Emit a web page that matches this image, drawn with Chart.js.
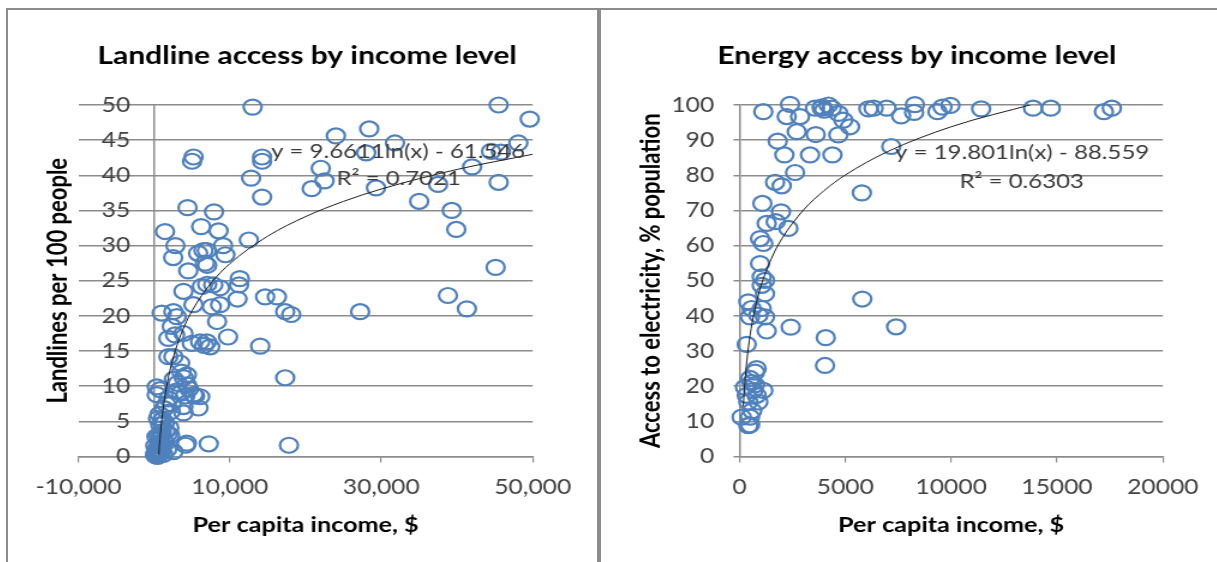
<!DOCTYPE html>
<html>
<head>
<meta charset="utf-8">
<script src="https://cdn.jsdelivr.net/npm/chart.js@4.4.1/dist/chart.umd.min.js"></script>
<style>
  html, body { margin: 0; padding: 0; background: #fff; overflow: hidden; }
  body { width: 1217px; height: 562px; position: relative; }
  .rule { position: absolute; background: #8c8c8c; }
  .panel { position: absolute; top: 10px; height: 552px; transform: scaleX(1.2); transform-origin: 0 0; }
</style>
</head>
<body>
<div class="rule" style="left:6px;top:8px;width:1211px;height:2px"></div>
<div class="rule" style="left:6px;top:8px;width:2px;height:554px"></div>
<div class="rule" style="left:597px;top:8px;width:4px;height:554px"></div>
<div class="panel" style="left:8px;width:491px"><canvas id="landlineChart"></canvas></div>
<div class="panel" style="left:601px;width:513px"><canvas id="energyChart"></canvas></div>
<script>
// landline chart: per capita income ($) vs landlines per 100 people
const landIncome = [
  13000, 45500, 49600, 28400, 24000, 31800, 48100, 44500, 45800, 28000,
  14250, 14250, 5200, 5000, 42000, 22000, 22500, 20800, 29300, 12800,
  45500, 37500, 14250, 35000, 39300, 39900, 45100, 38800, 41300, 27200,
  17300, 18100, 14650, 16200, 14000, 17300, 17800, 7200, 4150, 12500,
  11300, 11200, 11000, 9750,
  4400, 7900, 1430, 6200, 8500, 2800, 2500, 4500, 6500, 6950,
  9100, 9400, 5800, 6700, 7000, 3860, 6300, 7800, 8700, 7000,
  990, 2530, 2980, 5180, 7600, 8700, 8300, 2320, 2750, 1870,
  3860, 4970, 6070, 6950, 7390, 6600, 1870, 2530, 3420, 3600,
  770, 330, 2600, 3100, 3900, 4300, 2900, 3500, 4100, 5180,
  6070, 5840, 3860, 3860, 2300, 4300, 4600, 2530, 5390, 4300,
  100, 200, 300, 400, 500, 600, 700, 800, 900, 1000,
  1200, 1500, 1800, 2000, 300, 150, 600, 800, 1100, 1400,
  500, 700, 1300, 1600, 1900, 2200, 2100, 1700, 250, 450,
  350, 900, 1000, 1200, 1430, 330
];
const landlines = [
  49.7, 50.0, 48.0, 46.6, 45.6, 44.6, 44.6, 43.4, 43.3, 43.2,
  42.6, 42.0, 42.6, 42.0, 41.2, 41.0, 39.2, 38.1, 38.2, 39.6,
  39.0, 38.7, 36.9, 36.3, 35.0, 32.3, 26.9, 22.9, 21.0, 20.6,
  20.6, 20.2, 22.7, 22.7, 15.7, 11.2, 1.6, 1.8, 1.6, 30.8,
  25.3, 24.4, 22.4, 17.0,
  35.4, 34.8, 32.0, 32.7, 32.1, 30.0, 28.3, 26.4, 29.3, 29.3,
  30.0, 28.7, 28.9, 27.5, 27.2, 23.5, 24.2, 24.4, 24.0, 24.5,
  20.4, 20.6, 19.9, 21.6, 21.3, 21.6, 19.2, 18.5, 17.3, 16.8,
  17.5, 16.1, 16.3, 16.3, 15.6, 15.8, 14.2, 14.2, 13.3, 12.0,
  9.5, 8.8, 11.0, 10.4, 11.2, 10.2, 9.3, 9.0, 8.6, 8.8,
  8.5, 6.9, 7.1, 6.2, 7.5, 11.6, 9.6, 0.7, 8.6, 1.9,
  0.2, 0.5, 0.3, 0.8, 1.2, 0.4, 1.8, 2.5, 3.0, 3.5,
  2.2, 3.6, 3.2, 4.1, 2.8, 1.5, 3.0, 4.5, 5.2, 4.8,
  5.4, 6.0, 6.8, 7.4, 8.2, 6.4, 3.0, 1.0, 0.1, 0.0,
  1.0, 0.6, 1.5, 0.3, 1.9, 9.9
];
// fitted curve y = 9.6611ln(x) - 61.546, read at a few incomes
const landTrendX = [600, 700, 800, 1000, 1500, 2000, 3000, 4000, 5000, 7500, 10000, 15000, 20000, 25000, 30000, 40000, 50000];
const landTrendY = [0.25, 1.75, 3.04, 5.19, 9.11, 11.89, 15.80, 18.58, 20.74, 24.66, 27.44, 31.35, 34.13, 36.29, 38.05, 40.83, 42.99];

// energy chart: per capita income ($) vs access to electricity (% population)
const energyIncome = [
  1125, 2387, 2230, 2860, 3570, 3885, 4200, 4360, 4670, 4905,
  5220, 2705, 3600, 4670, 1805, 2120, 3333, 4390, 2625, 1680,
  1995, 5780, 1080, 1960, 1710, 1285, 2307, 970, 1125, 970,
  1050, 1205, 1050, 1205, 416, 575, 1050, 890, 1205, 496,
  1285, 2420, 340, 4074, 4040, 5800, 7400, 810, 730, 496,
  260, 1125, 810, 416, 890, 104, 416, 496, 575, 650,
  340, 730, 500, 600, 6334, 6949, 7634, 8287, 8250, 9350,
  9590, 9965, 11416, 13870, 14706, 17215, 17590, 7170, 6090, 3900,
  4000
];
const electricity = [
  98.1, 100.2, 96.7, 96.7, 99.1, 99.1, 100.0, 99.1, 97.6, 95.7,
  93.8, 92.4, 91.6, 91.5, 89.7, 85.8, 85.8, 85.8, 80.8, 78.0,
  77.0, 75.0, 72.0, 69.6, 66.8, 66.3, 64.9, 62.0, 60.6, 54.9,
  51.1, 50.1, 48.7, 46.3, 44.0, 42.1, 42.1, 40.2, 39.7, 39.7,
  35.7, 36.8, 31.9, 33.8, 25.9, 44.8, 36.9, 25.0, 24.0, 22.2,
  19.7, 18.8, 17.4, 15.5, 15.5, 11.2, 8.8, 11.2, 21.0, 18.8,
  17.4, 20.4, 9.0, 13.0, 99.1, 99.1, 96.9, 100.1, 97.9, 98.1,
  99.4, 99.9, 98.9, 99.1, 99.1, 98.1, 99.1, 88.2, 98.9, 99.5,
  98.5
];
// fitted curve y = 19.801ln(x) - 88.559
const energyTrendX = [180, 250, 350, 500, 700, 1000, 1500, 2000, 3000, 4000, 5000, 7000, 10000, 13900];
const energyTrendY = [14.27, 20.77, 27.43, 34.50, 41.16, 48.22, 56.25, 61.95, 69.98, 75.67, 80.09, 86.75, 93.81, 100.3];

const GRID = '#8c8c8c';
const TICK = '#404040';
Chart.defaults.font.family = 'Lato, "Open Sans", sans-serif';
Chart.defaults.animation = false;

function pairs(xs, ys) {
  return xs.map((x, i) => ({x: x, y: ys[i]}));
}

// draws the trendline equation and R² as text
const eqnPlugin = {
  id: 'eqn',
  afterDatasetsDraw(chart, args, opts) {
    const ctx = chart.ctx;
    const sx = chart.scales.x, sy = chart.scales.y;
    ctx.save();
    ctx.font = '20px Lato, "Open Sans", sans-serif';
    ctx.fillStyle = '#3a3a3a';
    ctx.textBaseline = 'middle';
    opts.lines.forEach(l => {
      ctx.textAlign = l.align;
      ctx.fillText(l.text, sx.getPixelForValue(l.x), sy.getPixelForValue(l.y));
    });
    ctx.restore();
  }
};

function makeChart(id, cfg) {
  return new Chart(document.getElementById(id), {
    type: 'scatter',
    data: {
      datasets: [{
        label: 'trend',
        data: pairs(cfg.trendX, cfg.trendY),
        showLine: true,
        borderColor: '#1e1e1e',
        borderWidth: 1,
        pointRadius: 0,
        cubicInterpolationMode: 'monotone',
        xAxisID: 'x', yAxisID: 'y'
      }, {
        label: 'countries',
        data: pairs(cfg.xs, cfg.ys),
        pointStyle: 'circle',
        pointRadius: 7.5,
        pointBorderWidth: 2.2,
        borderColor: '#4f81bd',
        backgroundColor: 'rgba(0,0,0,0)',
        clip: false,
        xAxisID: 'x', yAxisID: 'y'
      }]
    },
    plugins: [eqnPlugin],
    options: {
      responsive: true,
      maintainAspectRatio: false,
      layout: { padding: { left: cfg.padLeft, right: 0, top: 0, bottom: 0 } },
      plugins: {
        legend: { display: false },
        tooltip: { enabled: false },
        title: {
          display: true,
          text: cfg.title,
          color: '#000',
          font: { size: 25, weight: 'bold' },
          padding: { top: 30.6, bottom: 34.4 }
        },
        eqn: { lines: cfg.eqn }
      },
      scales: cfg.scales
    }
  });
}

const xTitle = {
  display: true, text: 'Per capita income, $', color: '#000',
  font: { size: 21, weight: 'bold' }, padding: { top: 0, bottom: 24.4 }
};
const tickFont = { size: 20.5 };

makeChart('landlineChart', {
  title: 'Landline access by income level',
  xs: landIncome, ys: landlines,
  trendX: landTrendX, trendY: landTrendY,
  padLeft: 7.4,
  eqn: [
    { text: 'y = 9.6611ln(x) - 61.546', x: 49000, y: 43.4, align: 'right' },
    { text: 'R² = 0.7021', x: 32290, y: 39.5, align: 'center' }
  ],
  scales: {
    x: {
      type: 'linear', position: 'bottom', min: -10000, max: 50000,
      ticks: { stepSize: 20000, padding: 12.2, color: TICK, font: tickFont,
               callback: v => v.toLocaleString('en-US') },
      grid: { drawOnChartArea: false, tickLength: 6, color: GRID, lineWidth: 1.2 },
      border: { display: true, color: GRID, width: 1.5 },
      title: xTitle,
      afterFit: s => { s.height = 105.5; }
    },
    y: {
      type: 'linear', position: 'left', min: 0, max: 50,
      ticks: { display: false, stepSize: 5 },
      grid: { color: GRID, lineWidth: 1.5, drawTicks: false },
      border: { display: false },
      title: { display: true, text: 'Landlines per 100 people', color: '#000',
               font: { size: 22, weight: 'bold' }, padding: { top: 21.7, bottom: 0 } },
      afterFit: s => { s.width = 51.35; }
    },
    // value labels sit a little left of the axis that crosses at x = 0
    yTicks: {
      type: 'linear', axis: 'y', position: { x: -3170 }, min: 0, max: 50,
      ticks: { stepSize: 5, color: TICK, font: tickFont },
      grid: { display: false },
      border: { display: false }
    },
    yLine: {
      type: 'linear', axis: 'y', position: { x: 0 }, min: 0, max: 50,
      ticks: { display: false },
      grid: { display: false },
      border: { display: true, color: GRID, width: 1.5 }
    },
    pad: {
      type: 'linear', axis: 'y', position: 'right',
      ticks: { display: false }, grid: { display: false }, border: { display: false },
      afterFit: s => { s.width = 53.75; }
    }
  }
});

makeChart('energyChart', {
  title: 'Energy access by income level',
  xs: energyIncome, ys: electricity,
  trendX: energyTrendX, trendY: energyTrendY,
  padLeft: 13.4,
  eqn: [
    { text: 'y = 19.801ln(x) - 88.559', x: 13354, y: 86.6, align: 'center' },
    { text: 'R² = 0.6303', x: 13330, y: 78.3, align: 'center' }
  ],
  scales: {
    x: {
      type: 'linear', position: 'bottom', min: 0, max: 20000,
      ticks: { stepSize: 5000, padding: 12.2, color: TICK, font: tickFont,
               callback: v => String(v) },
      grid: { drawOnChartArea: false, tickLength: 6, color: GRID, lineWidth: 1.2 },
      border: { display: true, color: GRID, width: 1.5 },
      title: xTitle,
      afterFit: s => { s.height = 105.5; }
    },
    y: {
      type: 'linear', position: 'left', min: 0, max: 100,
      ticks: { stepSize: 10, padding: 16, color: TICK, font: tickFont },
      grid: { color: GRID, lineWidth: 1.5, tickLength: 5 },
      border: { display: true, color: GRID, width: 1.5 },
      title: { display: true, text: 'Access to electricity, % population', color: '#000',
               font: { size: 22, weight: 'bold' }, padding: { top: 15.4, bottom: 0 } },
      afterFit: s => { s.width = 102; }
    },
    pad: {
      type: 'linear', axis: 'y', position: 'right',
      ticks: { display: false }, grid: { display: false }, border: { display: false },
      afterFit: s => { s.width = 44.8; }
    }
  }
});
</script>
</body>
</html>
